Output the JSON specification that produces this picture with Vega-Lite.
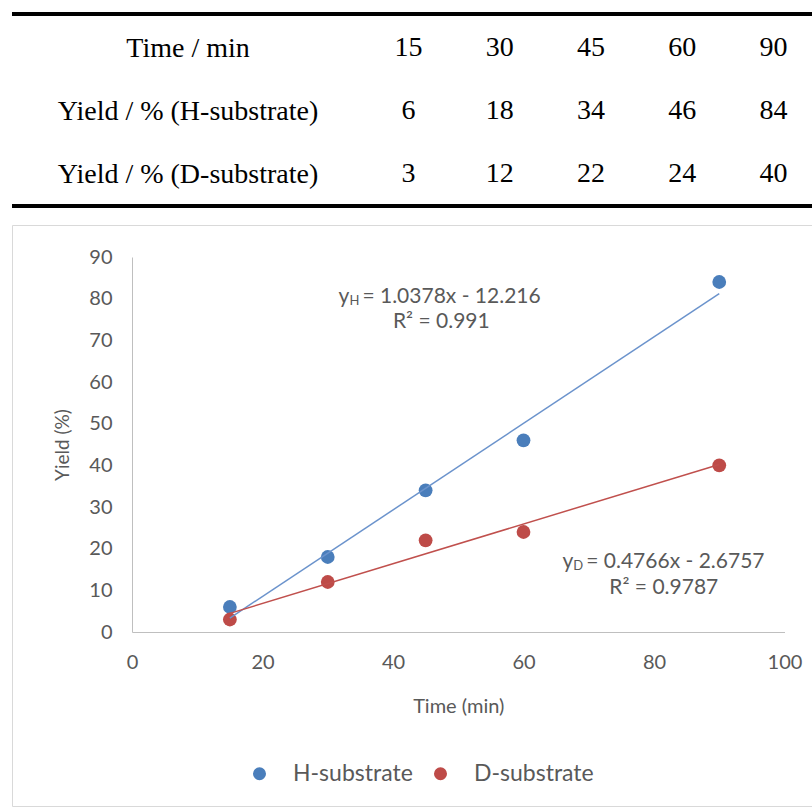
{
  "$schema": "https://vega.github.io/schema/vega-lite/v6.json",
  "padding": {"left": 10, "top": 0, "right": 0, "bottom": 0},
  "spacing": 0,
  "bounds": "flush",
  "config": {"font": "Lato"},
  "resolve": {"scale": {"color": "independent"}, "legend": {"color": "independent"}},
  "datasets": {
    "yields": [
      {"time": 15, "H-substrate": 6, "D-substrate": 3},
      {"time": 30, "H-substrate": 18, "D-substrate": 12},
      {"time": 45, "H-substrate": 34, "D-substrate": 22},
      {"time": 60, "H-substrate": 46, "D-substrate": 24},
      {"time": 90, "H-substrate": 84, "D-substrate": 40}
    ],
    "rules": [{"edge": "top"}, {"edge": "bottom"}],
    "notes": [
      {"kind": "y", "t": 34.7, "v": 80.4, "text": "y"},
      {"kind": "sub", "t": 34.7, "v": 80.4, "text": "H"},
      {"kind": "main", "t": 34.7, "v": 80.4, "text": "= 1.0378x - 12.216"},
      {"kind": "r2", "t": 47.4, "v": 74.4, "text": "R² = 0.991"},
      {"kind": "y", "t": 69.0, "v": 16.8, "text": "y"},
      {"kind": "sub", "t": 69.0, "v": 16.8, "text": "D"},
      {"kind": "main", "t": 69.0, "v": 16.8, "text": "= 0.4766x - 2.6757"},
      {"kind": "r2", "t": 81.5, "v": 10.6, "text": "R² = 0.9787"}
    ]
  },
  "vconcat": [
    {
      "width": 801,
      "height": 225,
      "view": {"stroke": null},
      "layer": [
        {
          "data": {"name": "rules"},
          "mark": {"type": "rule", "color": "black", "strokeWidth": 4},
          "encoding": {
            "y": {"field": "edge", "type": "nominal", "scale": {"type": "point", "domain": ["top", "bottom"], "range": [14, 206], "padding": 0}, "axis": null}
          }
        },
        {
          "data": {"name": "yields"},
          "transform": [{"fold": ["time", "H-substrate", "D-substrate"], "as": ["row", "cell"]}],
          "mark": {"type": "text", "font": "Liberation Serif", "fontSize": 28, "color": "black", "baseline": "middle"},
          "encoding": {
            "x": {"field": "time", "type": "ordinal", "scale": {"type": "point", "range": [396.5, 761.5], "padding": 0}, "axis": null},
            "y": {
              "field": "row", "type": "nominal",
              "scale": {"type": "point", "domain": ["time", "H-substrate", "D-substrate"], "range": [48, 174], "padding": 0},
              "axis": {
                "orient": "left", "offset": -175.5, "domain": false, "ticks": false, "grid": false, "title": null,
                "labelAlign": "center", "labelPadding": 0, "labelFont": "Liberation Serif", "labelFontSize": 28,
                "labelColor": "black", "labelLimit": 600, "labelBaseline": "middle", "labelOverlap": false,
                "labelExpr": "datum.value == 'time' ? 'Time / min' : datum.value == 'H-substrate' ? 'Yield / % (H-substrate)' : 'Yield / % (D-substrate)'"
              }
            },
            "text": {"field": "cell", "type": "quantitative"}
          }
        }
      ],
      "resolve": {"scale": {"y": "independent"}}
    },
    {
      "width": 801,
      "height": 581,
      "view": {"stroke": "#d9d9d9", "strokeWidth": 1},
      "data": {"name": "yields"},
      "layer": [
        {
          "transform": [{"fold": ["H-substrate", "D-substrate"], "as": ["series", "yield"]}],
          "mark": {"type": "circle", "size": 190, "opacity": 1},
          "encoding": {
            "x": {
              "field": "time", "type": "quantitative",
              "scale": {"domain": [0, 100], "range": [120, 772.5], "nice": false, "zero": false},
              "axis": {
                "orient": "bottom", "offset": -174, "title": "Time (min)", "ticks": false, "grid": false,
                "values": [0, 20, 40, 60, 80, 100], "domainColor": "#bfbfbf", "labelColor": "#595959",
                "labelFontSize": 20, "labelPadding": 20, "labelFlush": false, "titleColor": "#595959",
                "titleFontSize": 20, "titleFontWeight": "normal", "titlePadding": 24
              }
            },
            "y": {
              "field": "yield", "type": "quantitative",
              "scale": {"domain": [0, 90], "range": [407, 32], "nice": false},
              "axis": {
                "orient": "left", "offset": -120, "title": "Yield (%)", "ticks": false, "grid": false,
                "values": [0, 10, 20, 30, 40, 50, 60, 70, 80, 90], "domainColor": "#bfbfbf", "labelColor": "#595959",
                "labelFontSize": 20, "labelPadding": 20, "labelFlush": false, "titleColor": "#595959",
                "titleFontSize": 19, "titleFontWeight": "normal", "titlePadding": 16
              }
            },
            "color": {
              "field": "series", "type": "nominal",
              "scale": {"domain": ["H-substrate", "D-substrate"], "range": ["#4a7ebb", "#be4b48"]},
              "legend": {
                "orient": "none", "legendX": 236, "legendY": 537, "direction": "horizontal", "title": null,
                "symbolType": "circle", "symbolSize": 170, "labelFontSize": 23, "labelColor": "#595959",
                "labelOffset": 22, "columnPadding": 16, "symbolStrokeWidth": 0, "symbolOpacity": 1
              }
            }
          }
        },
        {
          "transform": [
            {"fold": ["H-substrate", "D-substrate"], "as": ["series", "yield"]},
            {"regression": "yield", "on": "time", "groupby": ["series"], "method": "linear"},
            {"filter": "datum.series == 'H-substrate'"}
          ],
          "mark": {"type": "line", "strokeWidth": 1.5, "color": "#6b93cc"},
          "encoding": {
            "x": {"field": "time", "type": "quantitative"},
            "y": {"field": "yield", "type": "quantitative"}
          }
        },
        {
          "transform": [
            {"fold": ["H-substrate", "D-substrate"], "as": ["series", "yield"]},
            {"regression": "yield", "on": "time", "groupby": ["series"], "method": "linear"},
            {"filter": "datum.series == 'D-substrate'"}
          ],
          "mark": {"type": "line", "strokeWidth": 1.5, "color": "#c0504d"},
          "encoding": {
            "x": {"field": "time", "type": "quantitative"},
            "y": {"field": "yield", "type": "quantitative"}
          }
        },
        {
          "data": {"name": "notes"},
          "transform": [{"filter": "datum.kind == 'y'"}],
          "mark": {"type": "text", "align": "right", "baseline": "middle", "dx": -9, "fontSize": 21, "color": "#595959"},
          "encoding": {
            "x": {"field": "t", "type": "quantitative"},
            "y": {"field": "v", "type": "quantitative"},
            "text": {"field": "text", "type": "nominal"}
          }
        },
        {
          "data": {"name": "notes"},
          "transform": [{"filter": "datum.kind == 'sub'"}],
          "mark": {"type": "text", "align": "left", "baseline": "middle", "dx": -9, "dy": 4, "fontSize": 13, "color": "#595959"},
          "encoding": {
            "x": {"field": "t", "type": "quantitative"},
            "y": {"field": "v", "type": "quantitative"},
            "text": {"field": "text", "type": "nominal"}
          }
        },
        {
          "data": {"name": "notes"},
          "transform": [{"filter": "datum.kind == 'main'"}],
          "mark": {"type": "text", "align": "left", "baseline": "middle", "dx": 4, "fontSize": 21, "color": "#595959"},
          "encoding": {
            "x": {"field": "t", "type": "quantitative"},
            "y": {"field": "v", "type": "quantitative"},
            "text": {"field": "text", "type": "nominal"}
          }
        },
        {
          "data": {"name": "notes"},
          "transform": [{"filter": "datum.kind == 'r2'"}],
          "mark": {"type": "text", "align": "center", "baseline": "middle", "fontSize": 21, "color": "#595959"},
          "encoding": {
            "x": {"field": "t", "type": "quantitative"},
            "y": {"field": "v", "type": "quantitative"},
            "text": {"field": "text", "type": "nominal"}
          }
        }
      ]
    }
  ]
}
